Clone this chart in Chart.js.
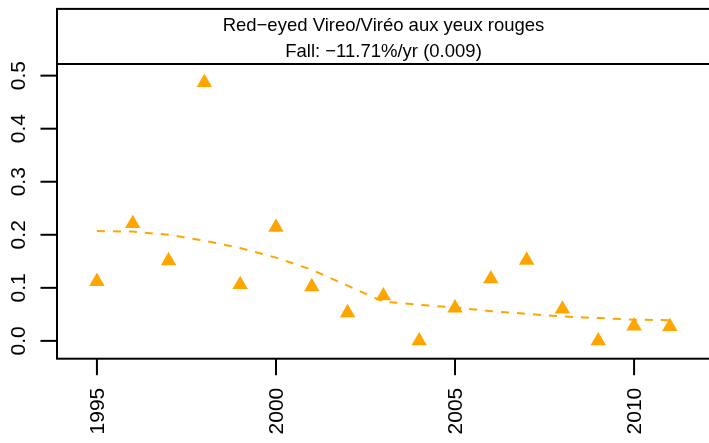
<!DOCTYPE html>
<html>
<head>
<meta charset="utf-8">
<script src="https://cdn.jsdelivr.net/npm/chart.js@4"></script>
<style>
  html, body { margin: 0; padding: 0; background: #fff; overflow: hidden; }
  #wrap { width: 720px; height: 443px; }
</style>
</head>
<body>
<div id="wrap"><canvas id="mychart"></canvas></div>
<script>
// data
const years = [1995, 1996, 1997, 1998, 1999, 2000, 2001, 2002, 2003, 2004, 2005, 2006, 2007, 2008, 2009, 2010, 2011];
const counts = [0.112, 0.221, 0.151, 0.487, 0.106, 0.214, 0.102, 0.053, 0.085, 0.0, 0.062, 0.117, 0.152, 0.060, 0.0, 0.028, 0.027];
const trend = [0.207, 0.206, 0.200, 0.189, 0.175, 0.157, 0.134, 0.104, 0.074, 0.068, 0.063, 0.056, 0.051, 0.046, 0.043, 0.040, 0.039];
const xTicks = [1995, 2000, 2005, 2010];
const yTicks = [0, 0.1, 0.2, 0.3, 0.4, 0.5];
const yLabels = ['0.0', '0.1', '0.2', '0.3', '0.4', '0.5'];
const titleLines = ['Red\u2212eyed Vireo/Viréo aux yeux rouges', 'Fall: \u221211.71%/yr (0.009)'];
const headerY = 0.522;

const orange = '#FFA500';
const font = '"Liberation Sans", Arial, Helvetica, sans-serif';

// box, header strip, axes (R base style)
const rAxes = {
    id: 'rAxes',
    afterDraw(chart) {
        const c = chart.ctx;
        const a = chart.chartArea;
        const xs = chart.scales.x;
        const ys = chart.scales.y;
        c.save();
        c.strokeStyle = '#000';
        c.lineWidth = 2;
        c.strokeRect(a.left, a.top, a.right - a.left, a.bottom - a.top);

        // header strip
        const hy = ys.getPixelForValue(headerY);
        c.beginPath();
        c.moveTo(a.left, hy);
        c.lineTo(a.right, hy);
        c.stroke();
        c.fillStyle = '#000';
        c.font = '18.5px ' + font;
        c.textAlign = 'center';
        c.textBaseline = 'alphabetic';
        const cx = (a.left + a.right) / 2;
        c.fillText(titleLines[0], cx, a.top + 22);
        c.fillText(titleLines[1], cx, a.top + 48.5);

        // x axis ticks
        c.font = '21px ' + font;
        xTicks.forEach(v => {
            const px = xs.getPixelForValue(v);
            c.beginPath();
            c.moveTo(px, a.bottom);
            c.lineTo(px, a.bottom + 16.5);
            c.stroke();
            c.save();
            c.translate(px + 0.8, a.bottom + 29);
            c.rotate(-Math.PI / 2);
            c.textAlign = 'right';
            c.textBaseline = 'middle';
            c.fillText(String(v), 0, 0);
            c.restore();
        });

        // y axis ticks
        yTicks.forEach((v, i) => {
            const py = ys.getPixelForValue(v);
            c.beginPath();
            c.moveTo(a.left, py);
            c.lineTo(a.left - 16.5, py);
            c.stroke();
            c.save();
            c.translate(a.left - 37.8, py);
            c.rotate(-Math.PI / 2);
            c.textAlign = 'center';
            c.textBaseline = 'middle';
            c.fillText(yLabels[i], 0, 0);
            c.restore();
        });
        c.restore();
    }
};

const ctx = document.getElementById('mychart');

const mychart = new Chart(ctx, {
    type: 'scatter',
    data: {
        datasets: [{
            label: 'trend',
            data: years.map((y, i) => ({ x: y, y: trend[i] })),
            showLine: true,
            borderColor: orange,
            borderWidth: 2,
            borderDash: [8, 8],
            pointRadius: 0,
            fill: false,
            order: 2
        },
        {
            label: 'count',
            data: years.map((y, i) => ({ x: y, y: counts[i] })),
            pointStyle: 'triangle',
            pointRadius: 8.9,
            pointBorderWidth: 0,
            borderWidth: 0,
            backgroundColor: orange,
            borderColor: orange,
            order: 1
        }]
    },
    options: {
        responsive: true,
        maintainAspectRatio: false,
        animation: false,
        layout: {
            padding: { left: 57, right: 10, top: 5, bottom: 84.3 }
        },
        plugins: {
            legend: { display: false },
            tooltip: { enabled: false }
        },
        scales: {
            x: {
                type: 'linear',
                display: false,
                min: 1993.885,
                max: 2012.12
            },
            y: {
                type: 'linear',
                display: false,
                min: -0.0336,
                max: 0.6258
            }
        }
    },
    plugins: [rAxes]
});
</script>
</body>
</html>
